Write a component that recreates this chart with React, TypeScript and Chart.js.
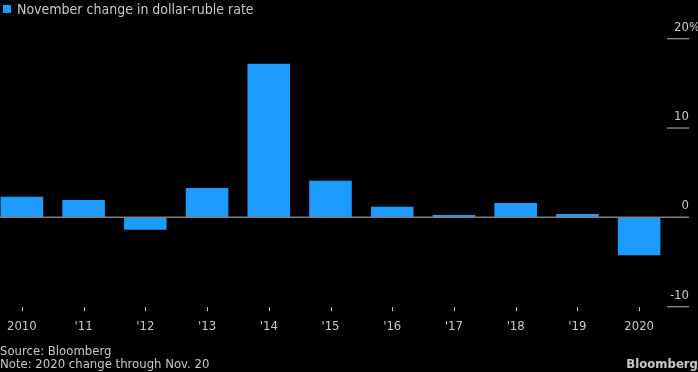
import React, { useEffect, useRef } from "react";
import { Chart, registerables } from "chart.js";

Chart.register(...registerables);

const categories = ["2010", "'11", "'12", "'13", "'14", "'15", "'16", "'17", "'18", "'19", "2020"];
const changes = [2.3, 1.95, -1.4, 3.3, 17.2, 4.1, 1.2, 0.27, 1.6, 0.38, -4.25];
const yTicks = [-10, 0, 10, 20];

const FONT = "'DejaVu Sans Condensed', 'DejaVu Sans', sans-serif";
const BAR = "#1e9bff";
const TEXT = "#c8c8c8";
const SHIFT = 9; // canvas is shifted left so the first category's half-band falls off-page
const CANVAS_W = 698 + SHIFT;
const AXIS_RIGHT = 689 + SHIFT;
const TICK_LEN = 22;

const axesPlugin = {
  id: "bbgAxes",
  afterDatasetsDraw(chart: any) {
    const { ctx, scales, chartArea } = chart;
    const xs = scales.x;
    const ys = scales.y;
    ctx.save();
    // zero line
    const y0 = ys.getPixelForValue(0);
    ctx.strokeStyle = "#808080";
    ctx.lineWidth = 1.5;
    ctx.beginPath();
    ctx.moveTo(0, y0);
    ctx.lineTo(AXIS_RIGHT, y0);
    ctx.stroke();

    // y ticks + labels
    ctx.font = `13px ${FONT}`;
    ctx.textBaseline = "alphabetic";
    yTicks.forEach((v) => {
      const py = ys.getPixelForValue(v);
      if (v !== 0) {
        ctx.strokeStyle = "#9a9a9a";
        ctx.lineWidth = 1.2;
        ctx.beginPath();
        ctx.moveTo(AXIS_RIGHT - TICK_LEN, py);
        ctx.lineTo(AXIS_RIGHT, py);
        ctx.stroke();
      }
      ctx.fillStyle = TEXT;
      ctx.textAlign = "right";
      ctx.fillText(String(v), AXIS_RIGHT, py - 8);
      if (v === yTicks[yTicks.length - 1]) {
        ctx.textAlign = "left";
        ctx.fillText("%", AXIS_RIGHT, py - 8);
      }
    });

    // x ticks + labels
    const bottom = chartArea.bottom;
    categories.forEach((c, i) => {
      const px = Math.round(xs.getPixelForValue(i)) + 0.5;
      ctx.strokeStyle = TEXT;
      ctx.lineWidth = 1;
      ctx.beginPath();
      ctx.moveTo(px, bottom + 0.5);
      ctx.lineTo(px, bottom + 4.5);
      ctx.stroke();
      ctx.fillStyle = TEXT;
      ctx.textAlign = "center";
      ctx.fillText(c, xs.getPixelForValue(i), bottom + 23.5);
    });
    ctx.restore();
  },
};

export default function App() {
  const ref = useRef<HTMLCanvasElement | null>(null);

  useEffect(() => {
    document.body.style.margin = "0";
    document.body.style.background = "#000";
    const canvas = ref.current;
    if (!canvas) return;
    const chart = new Chart(canvas, {
      type: "bar",
      data: {
        labels: categories,
        datasets: [
          {
            label: "November change in dollar-ruble rate",
            data: changes,
            backgroundColor: BAR,
            borderWidth: 0,
            barPercentage: 1,
            categoryPercentage: 0.69,
          },
        ],
      },
      options: {
        responsive: false,
        animation: false,
        devicePixelRatio: 1,
        layout: { padding: { left: 0, right: 28, top: 38.7, bottom: 65.3 } },
        scales: {
          x: { type: "category", display: false, offset: true },
          y: { display: false, min: -10, max: 20 },
        },
        plugins: { legend: { display: false }, tooltip: { enabled: false } },
      },
      plugins: [axesPlugin],
    });
    return () => chart.destroy();
  }, []);

  const textBase: React.CSSProperties = {
    position: "absolute",
    fontFamily: FONT,
    color: TEXT,
    whiteSpace: "nowrap",
    margin: 0,
  };

  return (
    <div style={{ position: "relative", width: 698, height: 372, background: "#000", overflow: "hidden" }}>
      <canvas
        ref={ref}
        width={CANVAS_W}
        height={372}
        style={{ position: "absolute", left: -SHIFT, top: 0, width: CANVAS_W, height: 372 }}
      />
      <div style={{ position: "absolute", left: 3, top: 5, width: 8, height: 8, background: BAR }} />
      <div style={{ ...textBase, left: 17, top: 2.2, fontSize: 14, lineHeight: "14px" }}>
        November change in dollar-ruble rate
      </div>
      <div style={{ ...textBase, left: 0, top: 344, fontSize: 13, lineHeight: "13px" }}>Source: Bloomberg</div>
      <div style={{ ...textBase, left: 0, top: 357, fontSize: 13, lineHeight: "13px" }}>
        Note: 2020 change through Nov. 20
      </div>
      <div style={{ ...textBase, right: 0, top: 357, fontSize: 13, lineHeight: "13px", fontWeight: "bold" }}>
        Bloomberg
      </div>
    </div>
  );
}
